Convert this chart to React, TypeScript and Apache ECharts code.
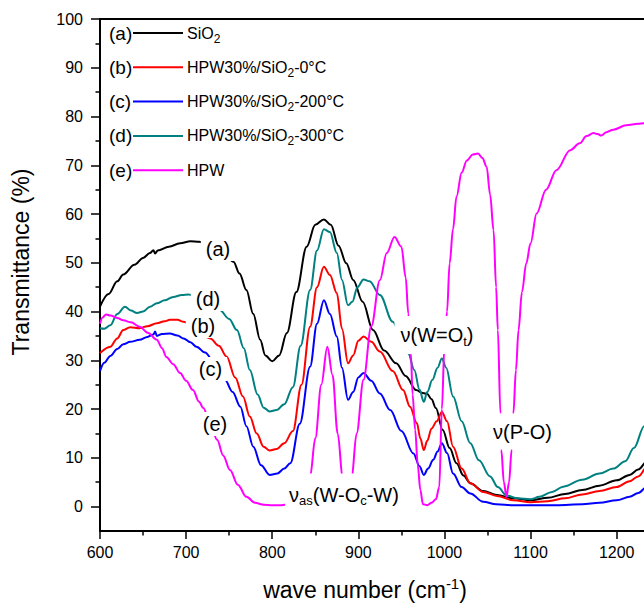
import React, { useEffect, useRef } from "react";
import * as echarts from "echarts";

const FF = '"Liberation Sans", Arial, Helvetica, sans-serif';

const waveLabelTicks = [600, 700, 800, 900, 1000, 1100, 1200];
const transMajorTicks = [0, 10, 20, 30, 40, 50, 60, 70, 80, 90, 100];
const transMinorTicks = [5, 15, 25, 35, 45, 55, 65, 75, 85, 95];

const seriesTags = ["(a)", "(b)", "(c)", "(d)", "(e)"];
const seriesNames = ["SiO2", "HPW30%/SiO2-0°C", "HPW30%/SiO2-200°C", "HPW30%/SiO2-300°C", "HPW"];
const seriesRichNames = [
  "SiO{s|2}",
  "HPW30%/SiO{s|2}-0°C",
  "HPW30%/SiO{s|2}-200°C",
  "HPW30%/SiO{s|2}-300°C",
  "HPW",
];
const seriesColors = ["#000000", "#ff0000", "#0000ff", "#008080", "#ff00ff"];

// (a) SiO2
const dataSiO2: [number, number][] = [
  [600, 41.0], [610, 43.6], [620, 46.2], [627, 47.6], [640, 49.6], [650, 51.0], [658, 52.0],
  [662, 52.6], [664, 51.9], [667, 52.5], [680, 53.3], [693, 54.0], [705, 54.4], [715, 54.3],
  [730, 53.4], [745, 51.8], [755, 50.2], [762, 47.8], [770, 44.4], [778, 39.5], [786, 34.2],
  [792, 31.0], [800, 29.8], [808, 31.0], [817, 35.6], [828, 44.0], [840, 53.3], [850, 57.8],
  [860, 58.9], [868, 57.8], [877, 53.5], [886, 49.9], [894, 46.5], [905, 42.0], [917, 36.2],
  [930, 32.0], [944, 29.4], [955, 26.8], [967, 23.9], [975, 23.3], [980, 23.1], [985, 22.0],
  [990, 20.2], [998, 15.7], [1006, 12.0], [1014, 8.9], [1022, 6.4], [1030, 4.8], [1045, 3.2],
  [1061, 2.4], [1080, 1.7], [1100, 1.3], [1120, 1.8], [1140, 2.6], [1160, 3.4], [1180, 4.3],
  [1200, 5.4], [1215, 6.5], [1225, 7.6], [1235, 9.2], [1250, 12.5], [1270, 18.0],
];

// (b) HPW30%/SiO2-0°C
const dataHPW0: [number, number][] = [
  [600, 31.5], [612, 32.8], [620, 34.5], [627, 36.2], [635, 36.8], [646, 36.6], [655, 37.0],
  [666, 37.6], [675, 38.0], [681, 38.3], [690, 38.3], [697, 37.9], [712, 36.5], [728, 34.5],
  [738, 33.0], [747, 30.8], [757, 26.5], [766, 22.6], [774, 18.5], [782, 15.0], [790, 12.3],
  [797, 11.5], [805, 11.8], [814, 13.0], [824, 15.5], [834, 25.0], [844, 36.9], [852, 45.0],
  [860, 49.2], [867, 47.5], [875, 43.8], [881, 36.5], [888, 29.4], [894, 31.0], [900, 34.0],
  [906, 34.9], [915, 33.8], [925, 31.8], [940, 27.8], [952, 23.9], [960, 20.5], [968, 17.1],
  [972, 14.0], [976, 11.6], [980, 13.5], [985, 16.0], [991, 17.5], [997, 19.4], [1003, 17.5],
  [1010, 12.3], [1020, 7.8], [1030, 4.8], [1045, 3.0], [1061, 2.2], [1080, 1.3], [1100, 0.9],
  [1120, 1.1], [1140, 1.7], [1160, 2.5], [1180, 3.2], [1200, 4.0], [1215, 5.2], [1225, 6.2],
  [1235, 8.0], [1250, 11.0], [1270, 16.0],
];

// (c) HPW30%/SiO2-200°C
const dataHPW200: [number, number][] = [
  [600, 27.8], [605, 29.5], [612, 30.9], [620, 32.3], [627, 33.3], [635, 33.8], [646, 34.2],
  [655, 34.8], [662, 35.3], [664, 35.9], [666, 35.0], [672, 35.4], [681, 35.5], [690, 35.1],
  [697, 34.5], [705, 33.7], [712, 32.8], [722, 31.6], [733, 29.5], [745, 26.0], [754, 23.5],
  [763, 20.5], [770, 16.5], [778, 12.3], [787, 8.5], [797, 6.5], [806, 6.8], [814, 7.8],
  [821, 8.9], [832, 17.0], [844, 28.7], [852, 37.5], [860, 42.3], [867, 39.5], [875, 34.9],
  [881, 28.5], [888, 21.9], [894, 23.5], [900, 26.5], [906, 27.4], [915, 25.8], [925, 23.2],
  [937, 19.8], [950, 15.5], [964, 10.9], [971, 8.3], [976, 6.5], [981, 7.8], [987, 9.6],
  [992, 11.3], [997, 13.0], [1003, 11.0], [1010, 6.8], [1020, 4.0], [1030, 2.7], [1045, 1.0],
  [1060, 0.5], [1080, 0.3], [1100, 0.3], [1130, 0.3], [1160, 0.5], [1180, 0.8], [1200, 1.3],
  [1215, 2.0], [1225, 2.8], [1235, 4.0], [1250, 7.0], [1270, 12.0],
];

// (d) HPW30%/SiO2-300°C
const dataHPW300: [number, number][] = [
  [600, 36.6], [605, 36.5], [612, 37.2], [620, 39.5], [629, 41.0], [636, 40.2], [643, 39.7],
  [650, 40.0], [658, 41.0], [666, 41.7], [675, 42.3], [685, 43.0], [695, 43.4], [703, 43.5],
  [720, 42.5], [739, 40.3], [750, 38.5], [759, 36.2], [767, 32.5], [774, 28.0], [783, 23.0],
  [790, 20.3], [797, 19.5], [805, 19.8], [814, 21.0], [824, 24.5], [833, 33.0], [844, 44.4],
  [852, 52.5], [860, 56.9], [867, 56.3], [875, 52.0], [881, 46.5], [888, 41.3], [893, 42.0],
  [899, 45.0], [906, 46.6], [913, 46.2], [925, 43.4], [940, 37.9], [950, 34.5], [958, 31.4],
  [965, 28.0], [971, 24.0], [976, 21.5], [980, 23.5], [986, 26.0], [992, 28.5], [997, 30.4],
  [1002, 28.5], [1010, 22.6], [1020, 17.5], [1030, 13.0], [1040, 9.5], [1053, 6.2], [1062, 4.0],
  [1072, 2.3], [1085, 1.7], [1100, 1.5], [1110, 2.0], [1125, 3.0], [1138, 4.1], [1160, 5.5],
  [1180, 6.8], [1196, 7.8], [1210, 9.3], [1220, 12.0], [1232, 16.5], [1250, 26.0], [1270, 36.0],
];

// (e) HPW
const dataHPW: [number, number][] = [
  [600, 37.5], [603, 38.8], [607, 39.4], [612, 39.2], [620, 38.7], [627, 38.2], [636, 37.8],
  [646, 36.9], [656, 35.6], [666, 34.2], [672, 32.5], [677, 30.7], [685, 29.2], [693, 27.4],
  [700, 25.8], [708, 23.9], [715, 21.5], [720, 20.2], [728, 17.0], [736, 13.7], [743, 10.5],
  [751, 7.5], [760, 4.5], [770, 2.0], [780, 0.8], [790, 0.4], [800, 0.3], [810, 0.3],
  [825, 0.8], [835, 2.5], [844, 6.2], [850, 14.0], [857, 25.0], [864, 32.8], [870, 27.0],
  [876, 15.0], [882, 5.5], [887, 0.5], [892, 5.5], [898, 15.0], [906, 26.0], [915, 37.0],
  [925, 46.4], [933, 52.0], [942, 55.3], [950, 53.3], [955, 47.0], [958, 39.6], [961, 31.4],
  [963, 23.0], [966, 15.7], [969, 8.5], [972, 3.4], [975, 0.5], [980, 0.3], [985, 0.8],
  [990, 1.5], [994, 4.0], [997, 20.0], [1000, 33.0], [1003, 40.0], [1006, 49.9], [1010, 57.0],
  [1014, 63.6], [1020, 68.5], [1026, 71.0], [1033, 72.2], [1039, 72.4], [1044, 71.5],
  [1049, 69.7], [1053, 64.0], [1057, 56.7], [1060, 45.0], [1062, 36.2], [1065, 19.1],
  [1066, 11.6], [1069, 5.0], [1072, 2.0], [1075, 5.0], [1078, 11.6], [1080, 19.1], [1083, 28.0],
  [1086, 36.2], [1090, 44.0], [1095, 49.9], [1100, 54.0], [1107, 60.1], [1118, 65.0],
  [1130, 69.0], [1146, 73.1], [1157, 74.5], [1165, 76.0], [1173, 76.6], [1178, 76.4],
  [1182, 76.1], [1188, 76.8], [1196, 77.3], [1211, 78.2], [1225, 78.5], [1232, 78.6],
  [1250, 78.8], [1270, 79.0],
];

const seriesData = [dataSiO2, dataHPW0, dataHPW200, dataHPW300, dataHPW];

// curve tag label centres (pixel placement of annotations)
const tagPos: [number, number][] = [
  [218, 249],
  [203, 326],
  [210.5, 369],
  [208, 299],
  [215, 424],
];

const annRich = {
  n: { fontSize: 20, fontFamily: FF, lineHeight: 24, color: "#000" },
  s: { fontSize: 13, fontFamily: FF, lineHeight: 14, padding: [12, 0, 0, 0], color: "#000" },
};

export default function App() {
  const ref = useRef<HTMLDivElement>(null);
  useEffect(() => {
    const chart = echarts.init(ref.current!, null, { renderer: "svg" });

    const tickLine = { color: "#000", width: 1.5 };
    const axisLine = { color: "#000", width: 2 };

    const graphics: any[] = [];
    // legend rows
    seriesNames.forEach((_, i) => {
      const y = 33 + i * 34.3;
      graphics.push({
        type: "text",
        x: 109,
        y,
        z: 100,
        style: {
          text: seriesTags[i],
          fill: "#000",
          fontSize: 19,
          fontFamily: FF,
          align: "left",
          verticalAlign: "middle",
        },
      });
      graphics.push({
        type: "line",
        z: 100,
        shape: { x1: 133, y1: y, x2: 183, y2: y },
        style: { stroke: seriesColors[i], lineWidth: 2 },
      });
      graphics.push({
        type: "text",
        x: 187,
        y,
        z: 100,
        style: {
          text: seriesRichNames[i],
          fill: "#000",
          fontSize: 16,
          fontFamily: FF,
          lineHeight: 20,
          align: "left",
          verticalAlign: "middle",
          rich: {
            s: { fontSize: 12, fontFamily: FF, lineHeight: 12, padding: [11, 0, 0, 0], color: "#000" },
          },
        },
      });
    });
    // curve tags
    tagPos.forEach((p, i) => {
      graphics.push({
        type: "text",
        x: p[0],
        y: p[1],
        z: 100,
        style: {
          text: seriesTags[i],
          fill: "#000",
          fontSize: 20,
          fontFamily: FF,
          align: "center",
          verticalAlign: "middle",
          backgroundColor: "#fff",
          padding: [2, 5],
        },
      });
    });
    // band annotations
    const ann = (text: string, x: number, y: number, padding: number[]) => ({
      type: "text",
      x,
      y,
      z: 100,
      style: {
        text,
        fill: "#000",
        fontSize: 20,
        fontFamily: FF,
        lineHeight: 24,
        align: "center",
        verticalAlign: "middle",
        backgroundColor: "#fff",
        padding,
        rich: annRich,
      },
    });
    graphics.push(ann("ν{s|as}(W-O{s|c}-W)", 344, 495, [9, 4, 10, 4]));
    graphics.push(ann("ν(W=O{s|t})", 437, 335, [7, 6, 7, 6]));
    graphics.push(ann("ν(P-O)", 522.5, 431.5, [6, 4, 6, 4]));
    // axis titles
    graphics.push({
      type: "text",
      x: 365,
      y: 590,
      z: 100,
      style: {
        text: "wave number (cm{sup|-1})",
        fill: "#000",
        fontSize: 23,
        fontFamily: FF,
        lineHeight: 28,
        align: "center",
        verticalAlign: "middle",
        rich: {
          sup: { fontSize: 15, fontFamily: FF, lineHeight: 15, padding: [0, 0, 13, 0], color: "#000" },
        },
      },
    });
    graphics.push({
      type: "text",
      x: 21,
      y: 262,
      rotation: Math.PI / 2,
      z: 100,
      style: {
        text: "Transmittance (%)",
        fill: "#000",
        fontSize: 23,
        fontFamily: FF,
        align: "center",
        verticalAlign: "middle",
      },
    });

    const fmt = (v: number) => String(v);

    const option: any = {
      animation: false,
      backgroundColor: "#fff",
      grid: {
        left: 100,
        top: 19,
        width: 602.8,
        height: 512,
        containLabel: false,
        outerBoundsMode: "none",
      },
      xAxis: [
        {
          type: "value",
          min: 600,
          max: 1300,
          interval: 100,
          position: "bottom",
          axisLine: { show: true, onZero: false, lineStyle: axisLine },
          axisTick: { show: true, length: 8, lineStyle: tickLine },
          minorTick: { show: true, splitNumber: 2, length: 4.5, lineStyle: tickLine },
          axisLabel: {
            customValues: waveLabelTicks,
            formatter: fmt,
            fontSize: 16,
            fontFamily: FF,
            color: "#000",
            margin: 13,
          },
          splitLine: { show: false },
          minorSplitLine: { show: false },
        },
        {
          type: "value",
          min: 600,
          max: 1300,
          position: "top",
          axisLine: { show: true, onZero: false, lineStyle: axisLine },
          axisTick: { show: false },
          axisLabel: { show: false },
          splitLine: { show: false },
        },
      ],
      yAxis: [
        {
          type: "value",
          min: -5,
          max: 100,
          interval: 5,
          position: "left",
          axisLine: { show: true, onZero: false, lineStyle: axisLine },
          axisTick: { show: true, customValues: transMinorTicks, length: 4.5, lineStyle: tickLine },
          axisLabel: {
            customValues: transMajorTicks,
            formatter: fmt,
            fontSize: 16,
            fontFamily: FF,
            color: "#000",
            margin: 17,
          },
          splitLine: { show: false },
        },
        {
          type: "value",
          min: -5,
          max: 100,
          interval: 5,
          position: "left",
          axisLine: { show: true, onZero: false, lineStyle: axisLine },
          axisTick: { show: true, customValues: transMajorTicks, length: 9, lineStyle: tickLine },
          axisLabel: { show: false },
          splitLine: { show: false },
        },
      ],
      series: seriesData.map((d, i) => ({
        name: seriesNames[i],
        type: "line",
        data: d,
        xAxisIndex: 0,
        yAxisIndex: 0,
        showSymbol: false,
        symbol: "none",
        smooth: 0.35,
        smoothMonotone: "x",
        lineStyle: { color: seriesColors[i], width: 2 },
        itemStyle: { color: seriesColors[i] },
        z: 2 + i,
      })),
      graphic: graphics,
    };
    chart.setOption(option);
    return () => chart.dispose();
  }, []);
  return (
    <div
      ref={ref}
      style={{ position: "fixed", left: 0, top: 0, width: 644, height: 604, background: "#fff" }}
    />
  );
}
